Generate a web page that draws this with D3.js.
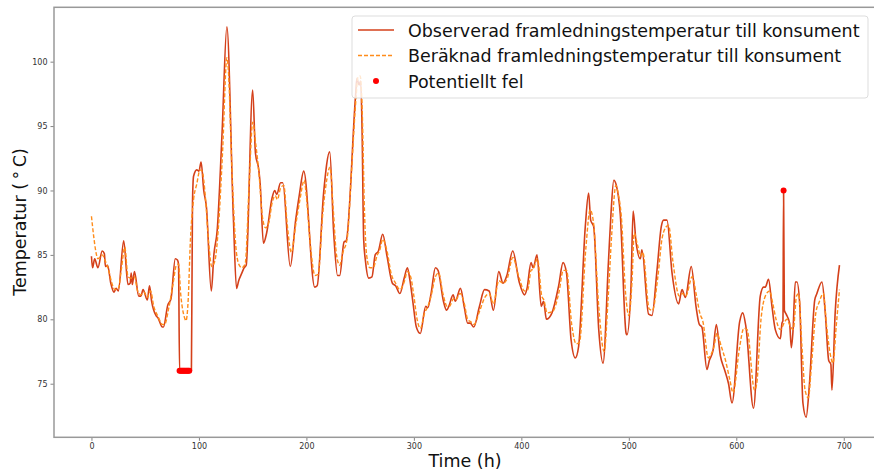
<!DOCTYPE html>
<html lang="sv">
<head>
<meta charset="utf-8">
<script src="https://d3js.org/d3.v7.min.js"></script>
<style>
  body { margin: 0; background: #fff; }
  svg { display: block; font-family: "DejaVu Sans", sans-serif; }
</style>
</head>
<body>
<script>
var obsTime = [0,1,3,6,10,12,13,15,18,21,23,25,30,34,36,37,38,40,44,46,48,52,54,56,60,62,66,67,71,74,78,80,81,82,93,94,95,98,100,102,104.5,107,111.5,114,117,121.5,126,132,135,137,140,142,144,150,152.6,155.7,157,160,163,168,170.5,172.4,176,178,185,190,193.5,197.5,207.7,210,216,221.7,225.4,229,231,235,237,245.6,247,249,250.5,251.8,253.3,255,258,261,264,267,271,275,280,283,287,291,294,296,299,302.3,306,311,313,316,320,322.5,327.5,330.5,332.5,336.5,338.6,343.3,347,350,352.5,355.7,361,365.7,370,374,379,383,386.5,392,398,403,405.3,409,411,414.6,418.5,420.7,423.3,428.5,434.7,438.8,442,446.3,450.2,453.3,459.5,462.6,464.5,467.3,472,476,481,483.4,486,488.4,492,497.5,498.3,502,504,506.7,510.7,512.2,518.4,521.5,526.2,530.2,532.4,535.5,540.2,546.3,549.5,552.6,558.1,562.5,565.6,568,572.7,574.9,578.4,581.4,585.1,589,592.8,596,603.1,606,609,616,622.3,625.4,627,630,633.2,636.3,641,642.5,643.4,644,644.7,646.4,649.6,651.2,652.7,654.9,656.4,659,662,665,668,673,675,679.7,682.8,686,688,689,692,696];
var obsTemp = [84.9,84.0,84.7,84.0,85.3,85.1,84.1,84.2,82.8,82.1,82.4,82.2,86.1,82.7,82.8,83.6,82.7,83.7,81.8,81.8,82.3,81.5,82.6,81.4,80.3,80.1,79.4,79.4,81.1,81.6,84.7,84.6,84.3,76.0,76.0,89.0,91.1,91.6,91.5,92.2,90.0,88.7,82.2,85.1,86.9,94.4,102.7,88.0,82.4,83.0,83.6,84.0,84.2,97.8,92.9,91.6,90.5,85.9,86.7,89.4,90.0,89.7,90.6,90.6,84.1,87.7,89.7,91.5,82.5,82.6,89.8,93.0,86.7,83.4,83.4,86.0,86.1,97.2,98.7,98.2,98.5,94.7,86.2,84.5,83.2,83.3,85.0,85.3,86.6,84.9,82.8,82.6,82.0,83.2,84.0,83.2,81.4,79.4,78.9,81.0,80.9,82.0,84.0,83.8,81.4,80.7,81.0,81.9,81.4,82.4,80.9,79.7,79.7,79.4,81.0,82.3,82.2,80.7,83.7,82.8,83.4,85.3,82.9,81.9,82.4,84.4,84.0,85.0,81.0,81.4,80.0,80.5,82.6,84.4,83.6,78.4,77.0,77.9,87.2,89.8,87.7,87.2,79.2,76.6,84.4,88.2,90.8,90.4,88.2,78.9,78.8,82.5,88.4,86.0,84.7,85.4,80.4,80.3,83.8,87.2,87.7,87.7,83.6,81.2,82.3,81.7,84.1,81.0,79.6,79.4,76.1,76.8,77.6,79.6,77.2,76.1,75.0,73.5,79.8,80.5,79.4,73.1,81.8,82.5,82.5,83.1,81.0,79.2,78.5,79.7,79.9,90.0,80.7,80.4,79.7,77.8,79.0,82.9,82.9,81.2,73.5,72.4,74.9,81.5,82.0,82.9,80.5,76.8,76.5,74.5,80.5,84.2];

// calculated (model) supply temperature
var predTime = [0,2,4,6,10,13,16,19,22,25,28,31,34,37,40,43,46,49,52,55,58,62,66,68,72,76,79,81,83,86,88,90,92,95,98,101,103,106,109,112,115,118,122,126,127,131,134,137,140,143,147,150,153,156,159,162,165,168,171,173,176,179,182,186,190,194,198,200,204,208,211,215,218,222,225,228,231,234,238,242,246,248,250,252,254,256,259,262,266,268,271,275,279,283,287,291,294,297,300,303,306,310,313,316,320,323,327,331,333,337,339,343,347,350,353,356,361,366,370,374,379,383,387,392,398,403,406,409,411,415,419,421,424,429,435,439,442,447,451,454,460,464,467,472,477,481,484,488,490,493,497,500,503,505,508,511,513,519,522,527,531,535,537,541,547,550,553,559,563,566,569,574,576,579,582,586,590,594,597,603,607,610,617,619,623,627,631,634,637,641,645,647,650,653,656,658,661,664,667,670,674,677,681,684,687,690,693,696];
var predTemp = [88.0,86.5,85.3,84.7,85.0,84.5,83.8,82.8,82.3,82.4,84.0,85.6,83.3,83.2,83.3,82.2,81.9,82.1,81.7,82.2,81.0,80.2,79.6,79.6,80.9,82.8,84.2,84.3,82.0,80.3,79.9,81.5,86.0,89.3,90.5,91.6,91.5,89.5,86.0,84.1,84.6,87.0,93.0,100.3,99.8,91.0,86.0,84.3,84.0,84.3,91.0,95.3,93.5,91.2,88.0,87.1,87.5,89.0,89.6,89.3,90.2,90.4,87.5,85.2,87.3,89.3,90.8,89.5,85.5,83.4,83.5,88.0,90.3,91.8,88.5,85.0,84.2,85.2,86.3,91.5,97.0,98.8,98.9,96.0,88.5,85.0,84.0,84.0,85.0,85.3,86.2,85.3,83.5,82.8,82.3,82.9,83.7,83.3,81.8,80.0,79.3,80.5,81.0,81.8,83.3,83.6,82.0,81.0,81.0,81.6,81.5,82.0,81.2,80.0,79.8,79.6,80.6,81.7,82.0,81.2,83.0,82.8,83.2,84.8,83.2,82.2,82.3,83.8,83.9,84.7,81.8,81.5,80.5,80.6,82.1,83.8,83.8,79.5,78.1,78.2,85.5,88.5,87.6,81.0,77.5,82.0,86.5,90.4,89.8,88.0,82.0,80.3,83.0,86.7,85.8,84.9,85.2,80.8,80.7,83.3,86.3,87.2,87.3,84.5,81.8,82.0,81.8,83.3,81.8,80.5,79.8,77.0,77.2,77.8,78.9,77.9,76.8,75.3,74.3,77.8,79.3,79.2,74.5,75.0,80.0,81.8,82.2,81.2,80.0,79.2,79.8,80.0,79.5,79.2,81.8,82.0,78.0,74.5,73.9,76.5,80.5,81.3,82.0,79.5,77.5,76.6,79.5,82.3];

// flagged points
var faultTime = [82,83,84,85,86,87,88,89,90,91,644];
var faultTemp = [76,76,76,76,76,76,76,76,76,76,90];

var xTicks = [0,100,200,300,400,500,600,700];
var yTicks = [75,80,85,90,95,100];

var legendLabels = ["Observerad framledningstemperatur till konsument",
                    "Beräknad framledningstemperatur till konsument",
                    "Potentiellt fel"];

var obsColor = "#d4401a";
var predColor = "#ff8c1a";
var faultColor = "#ff0000";

var width = 874, height = 470;
var margin = {left: 54, right: -4, top: 7.3, bottom: 32.7};

var svg = d3.select("body").append("svg")
  .attr("width", width)
  .attr("height", height);

var x = d3.scaleLinear().domain([-34.85, 731.85]).range([margin.left, width - margin.right]);
var y = d3.scaleLinear().domain([70.84, 104.22]).range([height - margin.bottom, margin.top]);

var obsData = obsTime.map(function(t, i) { return [t, obsTemp[i]]; });
var predData = predTime.map(function(t, i) { return [t, predTemp[i]]; });
var faultData = faultTime.map(function(t, i) { return [t, faultTemp[i]]; });

var line = d3.line()
  .curve(d3.curveMonotoneX)
  .x(function(d) { return x(d[0]); })
  .y(function(d) { return y(d[1]); });

// lines
svg.append("path")
  .datum(obsData)
  .attr("d", line)
  .attr("fill", "none")
  .attr("stroke", obsColor)
  .attr("stroke-width", 1.6)
  .attr("stroke-linejoin", "round");

svg.append("path")
  .datum(predData)
  .attr("d", line)
  .attr("fill", "none")
  .attr("stroke", predColor)
  .attr("stroke-width", 1.4)
  .attr("stroke-dasharray", "4,2");

svg.selectAll("circle.fault")
  .data(faultData)
  .enter().append("circle")
  .attr("class", "fault")
  .attr("cx", function(d) { return x(d[0]); })
  .attr("cy", function(d) { return y(d[1]); })
  .attr("r", 3)
  .attr("fill", faultColor);

// axes
var xAxis = svg.append("g")
  .attr("transform", "translate(0," + (height - margin.bottom) + ")")
  .call(d3.axisBottom(x).tickValues(xTicks).tickSize(3.5).tickPadding(2.5));
var yAxis = svg.append("g")
  .attr("transform", "translate(" + margin.left + ",0)")
  .call(d3.axisLeft(y).tickValues(yTicks).tickSize(3.5).tickPadding(3));

[xAxis, yAxis].forEach(function(g) {
  g.select(".domain").remove();
  g.selectAll(".tick line").attr("stroke", "#666").attr("stroke-width", 0.8);
  g.selectAll(".tick text")
    .attr("fill", "#333")
    .style("font-family", "DejaVu Sans, sans-serif")
    .style("font-size", "8px");
});

// frame
svg.append("rect")
  .attr("x", x.range()[0])
  .attr("y", margin.top)
  .attr("width", x.range()[1] - x.range()[0])
  .attr("height", y.range()[0] - margin.top)
  .attr("fill", "none")
  .attr("stroke", "#999")
  .attr("stroke-width", 1.5);

// axis labels
svg.append("text")
  .attr("x", 465)
  .attr("y", 467)
  .attr("text-anchor", "middle")
  .style("font-size", "17.5px")
  .attr("fill", "#111")
  .text("Time (h)");

svg.append("text")
  .attr("transform", "translate(26,222) rotate(-90)")
  .attr("text-anchor", "middle")
  .style("font-size", "17.5px")
  .attr("fill", "#111")
  .text("Temperatur (\u2009°\u2009C)");

// legend
var legend = svg.append("g");
legend.append("rect")
  .attr("x", 352)
  .attr("y", 16)
  .attr("width", 516)
  .attr("height", 82)
  .attr("rx", 3)
  .attr("fill", "#fff")
  .attr("fill-opacity", 0.8)
  .attr("stroke", "#ddd");

var rowY = [30, 55.5, 81];
legend.append("line")
  .attr("x1", 358).attr("x2", 394).attr("y1", rowY[0]).attr("y2", rowY[0])
  .attr("stroke", obsColor).attr("stroke-width", 1.6);
legend.append("line")
  .attr("x1", 358).attr("x2", 394).attr("y1", rowY[1]).attr("y2", rowY[1])
  .attr("stroke", predColor).attr("stroke-width", 1.4).attr("stroke-dasharray", "4,2");
legend.append("circle")
  .attr("cx", 376).attr("cy", rowY[2]).attr("r", 3).attr("fill", faultColor);

var labs = legend.selectAll("text.lab")
  .data(legendLabels)
  .enter().append("text")
  .attr("class", "lab")
  .attr("x", 408)
  .attr("y", function(d, i) { return rowY[i] + 6.5; })
  .style("font-size", "18px")
  .attr("fill", "#111")
  .text(function(d) { return d; });

// fit the longest label to the width it has in the picture (~452px)
var w0 = labs.nodes()[0].getComputedTextLength();
var fs = 18 * 452 / w0;
labs.style("font-size", fs + "px");
</script>
</body>
</html>
